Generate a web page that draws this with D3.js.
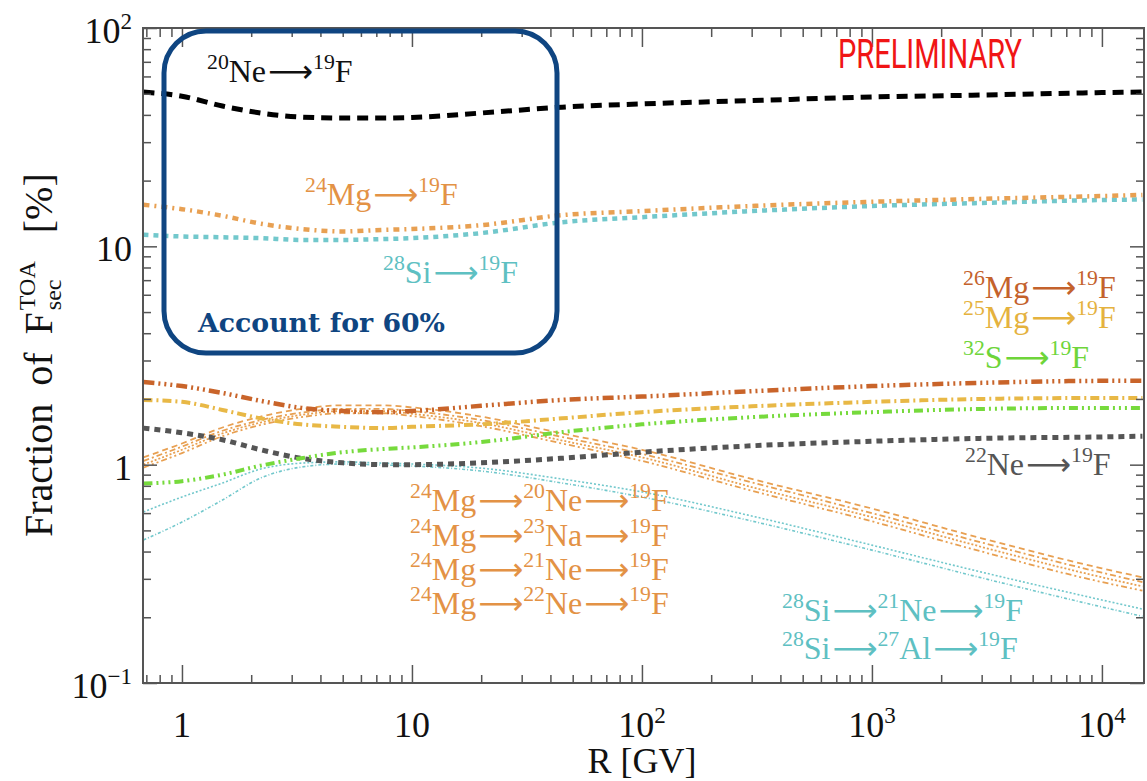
<!DOCTYPE html>
<html><head><meta charset="utf-8">
<script src="https://cdn.jsdelivr.net/npm/d3@7"></script>
<style>body{margin:0;background:#fff}</style>
</head><body>
<svg id="c" width="1147" height="781"></svg>
<script>
// ---------------- DATA ----------------
const rGrid = [0.68, 1, 1.5, 2.2, 3.3, 5, 7.5, 10, 20, 45, 100, 300, 1000, 3000, 10000, 15000];
const ne20_f   = [50.9, 48.7, 43.9, 40.8, 39.1, 38.7, 38.7, 38.9, 40.8, 43.4, 44.9, 46.5, 48.3, 49.3, 50.6, 50.9];
const mg24_f   = [15.5, 14.8, 13.8, 12.7, 12.0, 11.7, 11.9, 12.0, 12.5, 13.9, 14.5, 15.3, 16.0, 16.5, 17.0, 17.2];
const si28_f   = [11.3, 11.1, 11.0, 10.9, 10.7, 10.7, 10.8, 10.9, 11.5, 12.9, 13.6, 14.5, 15.3, 15.8, 16.3, 16.4];
const mg26_f   = [2.39, 2.29, 2.13, 1.96, 1.82, 1.76, 1.74, 1.76, 1.86, 1.98, 2.05, 2.17, 2.29, 2.37, 2.42, 2.42];
const mg25_f   = [1.98, 1.94, 1.78, 1.63, 1.53, 1.49, 1.47, 1.49, 1.53, 1.63, 1.74, 1.85, 1.94, 2.00, 2.02, 2.02];
const s32_f    = [0.82, 0.84, 0.90, 0.99, 1.07, 1.14, 1.18, 1.20, 1.27, 1.41, 1.53, 1.65, 1.74, 1.80, 1.82, 1.82];
const ne22_f   = [1.47, 1.40, 1.30, 1.17, 1.07, 1.02, 1.00, 1.00, 1.02, 1.07, 1.14, 1.22, 1.28, 1.32, 1.34, 1.35];
const mg24ne20 = [1.08, 1.25, 1.48, 1.66, 1.80, 1.87, 1.87, 1.83, 1.66, 1.39, 1.17, 0.86, 0.63, 0.46, 0.335, 0.305];
const mg24na23 = [1.04, 1.21, 1.43, 1.60, 1.73, 1.80, 1.80, 1.76, 1.60, 1.34, 1.12, 0.83, 0.60, 0.44, 0.32, 0.29];
const mg24ne21 = [1.00, 1.17, 1.39, 1.56, 1.69, 1.76, 1.76, 1.71, 1.55, 1.29, 1.08, 0.79, 0.575, 0.42, 0.305, 0.277];
const mg24ne22 = [0.97, 1.13, 1.35, 1.52, 1.65, 1.72, 1.72, 1.67, 1.50, 1.25, 1.04, 0.76, 0.55, 0.40, 0.29, 0.265];
const si28ne21 = [0.607, 0.711, 0.824, 0.955, 1.016, 1.03, 1.016, 1.007, 0.964, 0.859, 0.75, 0.582, 0.428, 0.322, 0.240, 0.218];
const si28al27 = [0.452, 0.546, 0.689, 0.869, 0.975, 1.007, 0.996, 0.986, 0.935, 0.824, 0.711, 0.552, 0.406, 0.303, 0.223, 0.202];

const xTickValues = [1, 10, 100, 1000, 10000];
const xTickLabels = ["1", "10", "10|^2", "10|^3", "10|^4"];
const yTickValues = [0.1, 1, 10, 100];
const yTickLabels = ["10|^\u22121", "1", "10", "10|^2"];

const seriesLabels = [
  "^20|Ne|\u27F6|^19|F", "^24|Mg|\u27F6|^19|F", "^28|Si|\u27F6|^19|F",
  "^26|Mg|\u27F6|^19|F", "^25|Mg|\u27F6|^19|F", "^32|S|\u27F6|^19|F", "^22|Ne|\u27F6|^19|F",
  "^24|Mg|\u27F6|^20|Ne|\u27F6|^19|F", "^24|Mg|\u27F6|^23|Na|\u27F6|^19|F",
  "^24|Mg|\u27F6|^21|Ne|\u27F6|^19|F", "^24|Mg|\u27F6|^22|Ne|\u27F6|^19|F",
  "^28|Si|\u27F6|^21|Ne|\u27F6|^19|F", "^28|Si|\u27F6|^27|Al|\u27F6|^19|F"
];

// ---------------- STYLE / LAYOUT ----------------
const W = 1147, H = 781;
const plot = {l: 143, r: 1144, t: 28, b: 683};
const C = {
  black: "#000", orange: "#e8a052", teal: "#72c8cc", dkorange: "#c9642a",
  gold: "#e8b846", green: "#76da3c", gray: "#555",
  orangeTxt: "#e39245", tealTxt: "#5ec0c2", blue: "#0f4581"
};
const series = [
  {v: mg24ne20, c: C.orange, w: 1.8, d: "6,4"},
  {v: mg24na23, c: C.orange, w: 1.8, d: "6,3,2,3"},
  {v: mg24ne21, c: C.orange, w: 1.8, d: "2,2"},
  {v: mg24ne22, c: C.orange, w: 1.8, d: "6,3,2,3,2,3"},
  {v: si28ne21, c: C.teal, w: 1.6, d: "2,2"},
  {v: si28al27, c: C.teal, w: 1.6, d: "3,2,1,2"},
  {v: ne22_f, c: C.gray, w: 5, d: "6,5"},
  {v: s32_f, c: C.green, w: 4, d: "9,4,2,4,2,4,2,4"},
  {v: mg25_f, c: C.gold, w: 4, d: "9,4,2,4"},
  {v: mg26_f, c: C.dkorange, w: 4.5, d: "11,4,2,4,2,4,2,4"},
  {v: si28_f, c: C.teal, w: 4.5, d: "5,5"},
  {v: mg24_f, c: C.orange, w: 4.5, d: "6,5,2,5"},
  {v: ne20_f, c: C.black, w: 5, d: "11,7"}
];
const labelPos = [
  {x: 207, y: 82, c: "#111"},
  {x: 305, y: 205, c: C.orangeTxt},
  {x: 383, y: 283, c: C.tealTxt},
  {x: 963, y: 298, c: "#c4622c"},
  {x: 963, y: 328, c: "#e5b23e"},
  {x: 963, y: 368, c: "#6ed53a"},
  {x: 965, y: 475, c: "#555"},
  {x: 410, y: 511, c: C.orangeTxt},
  {x: 410, y: 546, c: C.orangeTxt},
  {x: 410, y: 580, c: C.orangeTxt},
  {x: 410, y: 614, c: C.orangeTxt},
  {x: 782, y: 621, c: C.tealTxt},
  {x: 782, y: 659, c: C.tealTxt}
];

const SERIF = "'Liberation Serif','Times New Roman',serif";
const svg = d3.select("#c");
svg.append("rect").attr("width", W).attr("height", H).attr("fill", "#fff");

const x = d3.scaleLog().domain([0.677, 15240]).range([plot.l, plot.r]);
const y = d3.scaleLog().domain([0.1, 100]).range([plot.b, plot.t]);

// rich text helper: parts split by "|" ; "^" prefix = superscript ; long arrow drawn in DejaVu Sans
function rich(sel, str, size, supRatio = 0.64) {
  const parts = str.split("|");
  let off = 0;
  const supSize = size * supRatio, shift = size * 0.4;
  parts.forEach(p => {
    const ts = sel.append("tspan");
    if (p.startsWith("^")) {
      ts.text(p.slice(1)).attr("font-size", supSize).attr("dy", -shift - off);
      off = -shift;
    } else if (p === "\u27F6") {
      ts.text(p).attr("font-size", size * 0.98).attr("font-family", "'DejaVu Sans',sans-serif")
        .attr("dy", -off).attr("dx", 2);
      off = 0;
    } else {
      ts.text(p).attr("font-size", size).attr("dy", -off);
      off = 0;
    }
  });
  return sel;
}

// ---------------- LINES ----------------
svg.append("clipPath").attr("id", "clip").append("rect")
  .attr("x", plot.l).attr("y", plot.t).attr("width", plot.r - plot.l).attr("height", plot.b - plot.t);
const line = d3.line().x(d => x(d[0])).y(d => y(d[1])).curve(d3.curveMonotoneX);
const gl = svg.append("g").attr("clip-path", "url(#clip)");
series.forEach(s => {
  gl.append("path").attr("d", line(rGrid.map((r, i) => [r, s.v[i]])))
    .attr("fill", "none").attr("stroke", s.c).attr("stroke-width", s.w)
    .attr("stroke-dasharray", s.d);
});

// ---------------- AXES ----------------
const axisColor = "#555";
const isMajor = v => Math.abs(Math.log10(v) - Math.round(Math.log10(v))) < 1e-6;
const xMinor = x.ticks().filter(v => !isMajor(v));
const xMajor = x.ticks().filter(isMajor);
const yMinor = y.ticks().filter(v => !isMajor(v));
const yMajor = y.ticks().filter(isMajor);
function addAxis(gen, pos, vals, size) {
  const g = svg.append("g").attr("transform", pos)
    .call(gen.tickValues(vals).tickSizeInner(size).tickSizeOuter(0).tickFormat(""));
  g.select(".domain").remove();
  g.selectAll(".tick line").attr("stroke", axisColor).attr("stroke-width", 1.5);
}
addAxis(d3.axisBottom(x), `translate(0,${plot.b})`, xMinor, -8);
addAxis(d3.axisBottom(x), `translate(0,${plot.b})`, xMajor, -18);
addAxis(d3.axisTop(x), `translate(0,${plot.t})`, xMinor, -9);
addAxis(d3.axisTop(x), `translate(0,${plot.t})`, xMajor, -19);
addAxis(d3.axisLeft(y), `translate(${plot.l},0)`, yMinor, -8);
addAxis(d3.axisLeft(y), `translate(${plot.l},0)`, yMajor, -14);
addAxis(d3.axisRight(y), `translate(${plot.r},0)`, yMinor, -8);
addAxis(d3.axisRight(y), `translate(${plot.r},0)`, yMajor, -14);
svg.append("rect").attr("x", plot.l).attr("y", plot.t)
  .attr("width", plot.r - plot.l).attr("height", plot.b - plot.t)
  .attr("fill", "none").attr("stroke", axisColor).attr("stroke-width", 2);

// tick labels
xTickValues.forEach((v, i) => {
  rich(svg.append("text").attr("x", x(v)).attr("y", 737).attr("text-anchor", "middle")
    .attr("font-family", SERIF).attr("fill", "#111"), xTickLabels[i], 36);
});
yTickValues.forEach((v, i) => {
  rich(svg.append("text").attr("x", 132).attr("y", y(v) + 15).attr("text-anchor", "end")
    .attr("font-family", SERIF).attr("fill", "#111"), yTickLabels[i], 36);
});
svg.append("text").attr("x", x(100)).attr("y", 773).attr("text-anchor", "middle")
  .attr("font-family", SERIF).attr("font-size", 36).attr("fill", "#111").text("R [GV]");

// y title (rotated)
const gt = svg.append("g").attr("transform", "translate(52,537) rotate(-90)");
const t1 = gt.append("text").attr("x", 0).attr("y", 0).attr("font-family", SERIF)
  .attr("font-size", 40).attr("word-spacing", 8).attr("fill", "#111").text("Fraction of F");
const w1 = t1.node().getComputedTextLength();
const tSup = gt.append("text").attr("x", w1 + 2).attr("y", -17).attr("font-family", SERIF)
  .attr("font-size", 24).attr("fill", "#111").text("TOA");
const tSub = gt.append("text").attr("x", w1 + 2).attr("y", 9).attr("font-family", SERIF)
  .attr("font-size", 24).attr("fill", "#111").text("sec");
const w2 = Math.max(tSup.node().getComputedTextLength(), tSub.node().getComputedTextLength());
gt.append("text").attr("x", w1 + 2 + w2 + 28).attr("y", 0).attr("font-family", SERIF)
  .attr("font-size", 40).attr("fill", "#111").text("[%]");

// ---------------- ANNOTATIONS ----------------
seriesLabels.forEach((s, i) => {
  const p = labelPos[i];
  rich(svg.append("text").attr("x", p.x).attr("y", p.y).attr("font-family", SERIF)
    .attr("fill", p.c), s, 32, 0.68);
});

svg.append("rect").attr("x", 164).attr("y", 31).attr("width", 393).attr("height", 322)
  .attr("rx", 42).attr("fill", "none").attr("stroke", C.blue).attr("stroke-width", 5);
svg.append("text").attr("x", 198).attr("y", 332).attr("font-family", "'DejaVu Serif',serif")
  .attr("font-weight", "bold").attr("font-size", 26).attr("fill", C.blue)
  .attr("textLength", 247).attr("lengthAdjust", "spacingAndGlyphs").text("Account for 60%");
svg.append("text").attr("x", 838).attr("y", 68).attr("font-family", "Roboto, sans-serif")
  .attr("font-weight", 400).attr("font-size", 40).attr("fill", "#f01515")
  .attr("textLength", 184).attr("lengthAdjust", "spacingAndGlyphs").text("PRELIMINARY");
</script>
</body></html>
